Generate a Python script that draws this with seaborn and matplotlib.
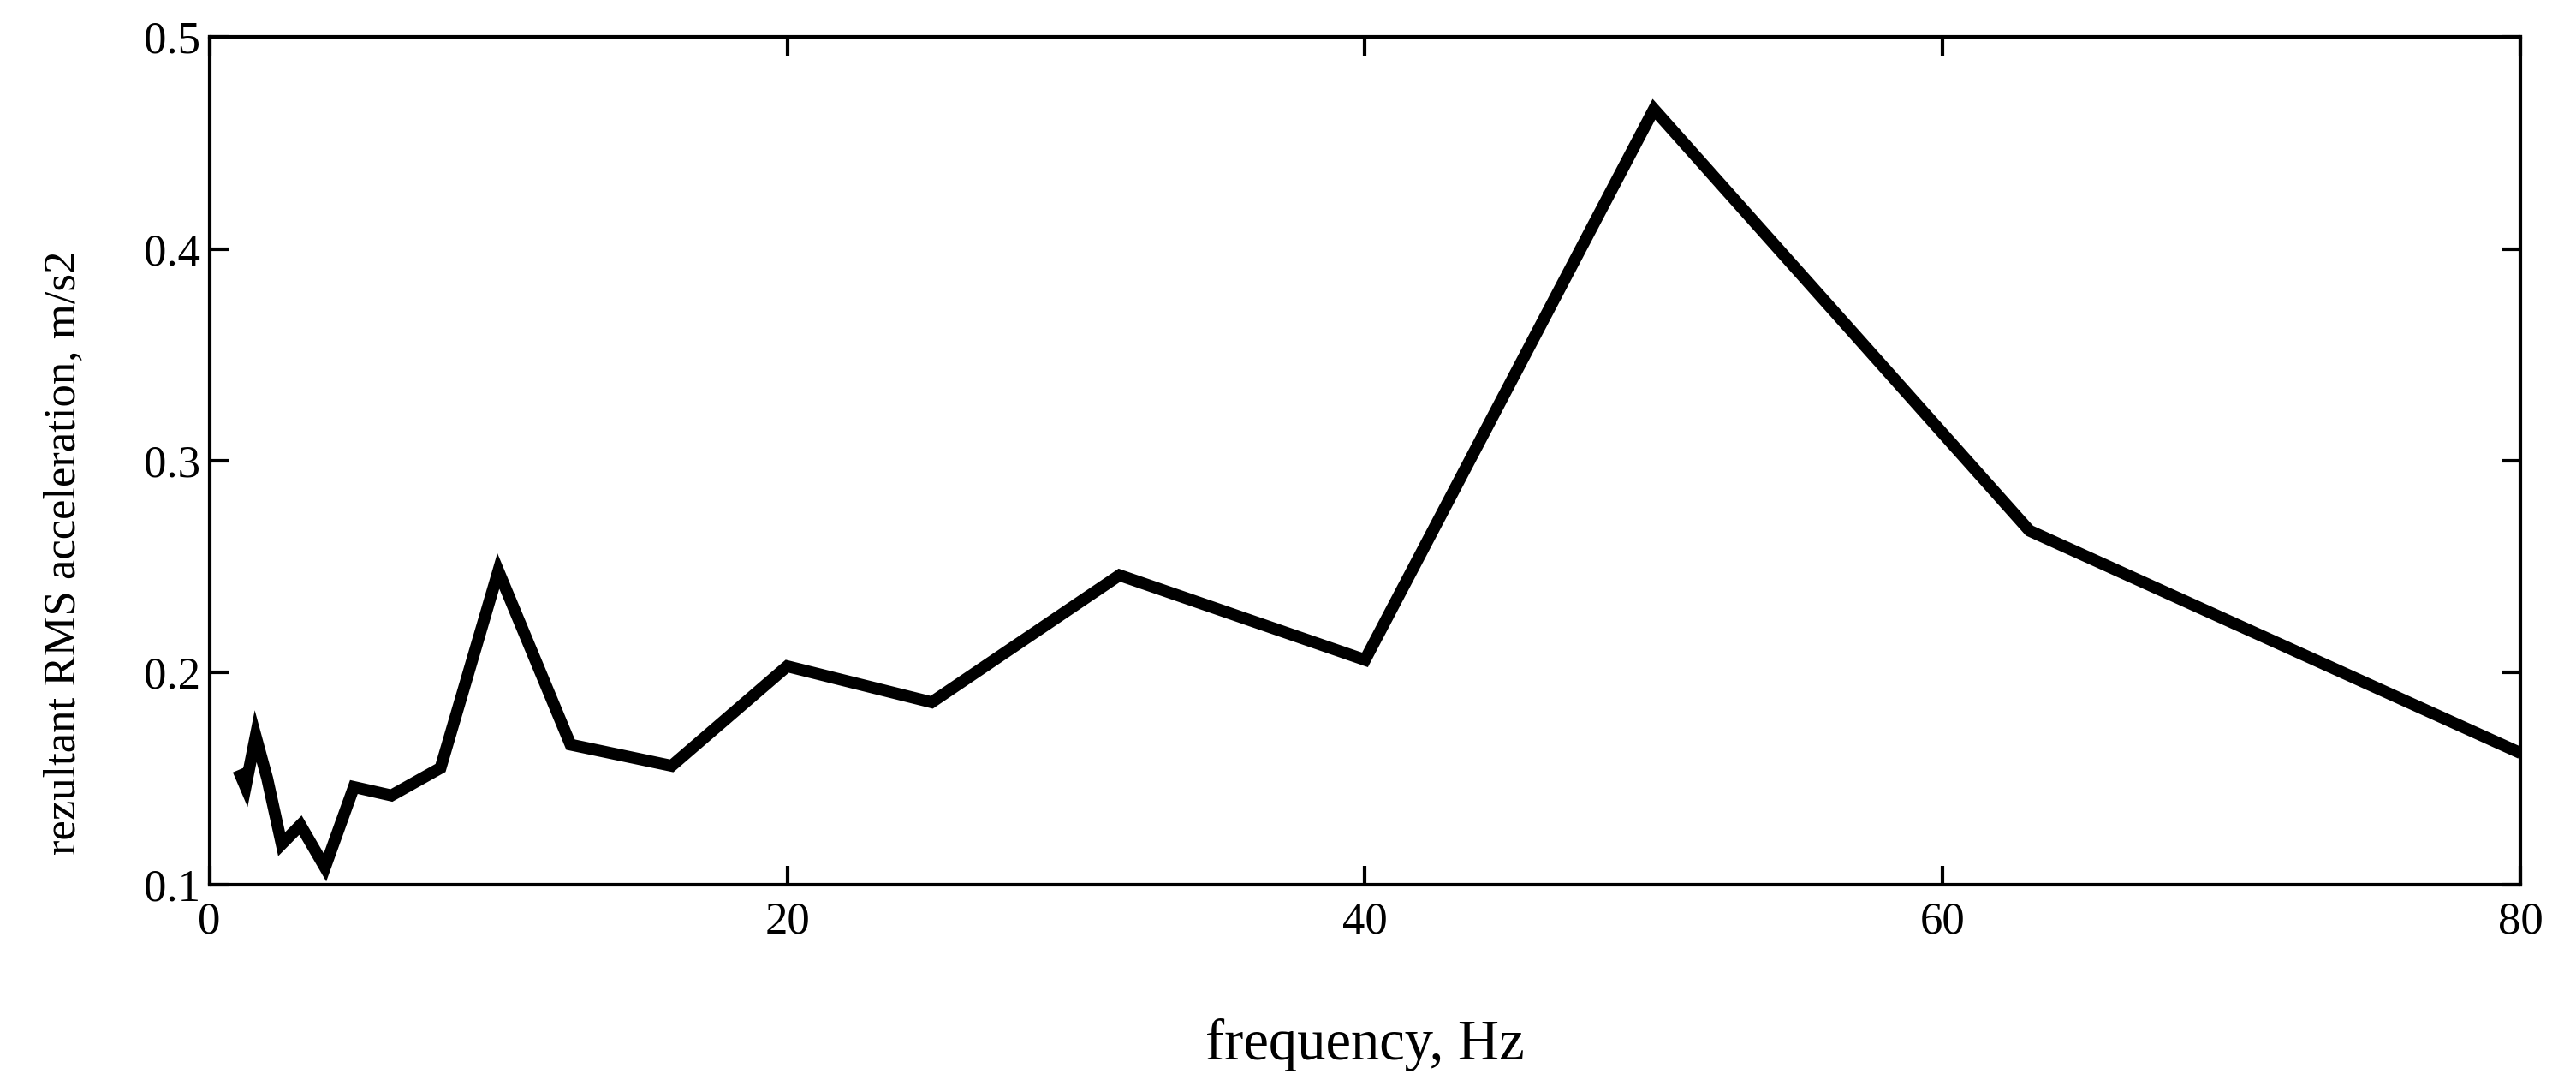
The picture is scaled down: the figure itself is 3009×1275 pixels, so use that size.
import matplotlib
matplotlib.use("Agg")
import matplotlib.pyplot as plt
import seaborn as sns
import pandas as pd

# Data
frequency_hz = [1.0, 1.25, 1.6, 2.0, 2.5, 3.15, 4.0, 5.0, 6.3, 8.0,
                10.0, 12.5, 16.0, 20.0, 25.0, 31.5, 40.0, 50.0, 63.0, 80.0]
rms_accel = [0.154, 0.146, 0.170, 0.150, 0.119, 0.128, 0.108, 0.146, 0.142, 0.155,
             0.248, 0.166, 0.156, 0.203, 0.186, 0.246, 0.206, 0.466, 0.267, 0.162]
x_ticks = [0, 20, 40, 60, 80]
y_ticks = [0.1, 0.2, 0.3, 0.4, 0.5]
y_tick_labels = ["0.1", "0.2", "0.3", "0.4", "0.5"]

sns.set_theme(style="ticks")
plt.rcParams["font.family"] = ["Liberation Serif", "DejaVu Serif"]

df = pd.DataFrame({"f": frequency_hz, "a": rms_accel})

fig = plt.figure(figsize=(30.09, 12.75), dpi=100)
ax = fig.add_axes([0.0813, 0.1901, 0.9785 - 0.0813, 0.9659 - 0.1901])

sns.lineplot(data=df, x="f", y="a", ax=ax, color="black", linewidth=10,
             solid_joinstyle="miter", solid_capstyle="butt", legend=False)

ax.set_xlim(0, 80)
ax.set_ylim(0.1, 0.5)
ax.set_xticks(x_ticks)
ax.set_xticklabels([str(t) for t in x_ticks])
ax.set_yticks(y_ticks)
ax.set_yticklabels(y_tick_labels)

for sp in ax.spines.values():
    sp.set_visible(True)
    sp.set_linewidth(3)
    sp.set_color("black")

ax.tick_params(axis="both", direction="in", length=16, width=3, color="black",
               top=True, right=True, labelsize=38, labelcolor="black")
ax.tick_params(axis="x", pad=14)
ax.tick_params(axis="y", pad=8)

ax.set_xlabel("frequency, Hz", fontsize=48, color="black")
ax.set_ylabel("rezultant RMS acceleration, m/s2", fontsize=38, color="black")
ax.xaxis.set_label_coords(0.5, -0.158)
ax.yaxis.set_label_coords(-0.054, 0.392)

fig.savefig("out.png", dpi=100, facecolor="white")
